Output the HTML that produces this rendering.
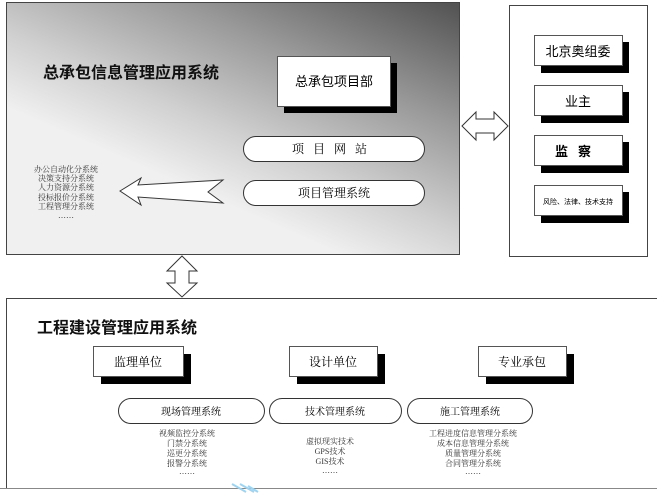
<!DOCTYPE html>
<html><head><meta charset="utf-8"><style>
html,body{margin:0;padding:0;background:#fff;width:657px;height:493px;overflow:hidden}
svg{display:block}
text{font-family:"Liberation Serif","Noto Serif CJK SC",serif}
.b{font-family:"Liberation Sans","Noto Sans CJK SC",sans-serif;font-weight:bold}
.s{font-family:"Liberation Sans","Noto Sans CJK SC",sans-serif}
</style></head><body>
<svg width="657" height="493" viewBox="0 0 657 493" xmlns="http://www.w3.org/2000/svg">
<defs>
<linearGradient id="g2" gradientUnits="userSpaceOnUse" x1="440" y1="0" x2="330" y2="250">
<stop offset="0" stop-color="#555"/>
<stop offset="0.4" stop-color="#9a9a9a"/>
<stop offset="0.75" stop-color="#d0d0d0"/>
<stop offset="1" stop-color="#f0f0f0"/>
</linearGradient>
</defs>
<rect x="6.5" y="2.5" width="453" height="252" fill="url(#g2)" stroke="#444" stroke-width="1"/>
<text x="43" y="78" font-size="16" class="b" fill="#111">总承包信息管理应用系统</text>
<rect x="284" y="63" width="113" height="50" fill="#000"/>
<rect x="277.5" y="56.5" width="113" height="50" fill="#fff" stroke="#555"/>
<text x="334" y="86" font-size="13" class="s" text-anchor="middle">总承包项目部</text>
<rect x="243.5" y="136.5" width="181" height="25" rx="12.5" fill="#fff" stroke="#333"/>
<text x="334" y="153" font-size="12" text-anchor="middle" letter-spacing="9">项目网站</text>
<rect x="243.5" y="180.5" width="181" height="25" rx="12.5" fill="#fff" stroke="#333"/>
<text x="334" y="197" font-size="12" text-anchor="middle">项目管理系统</text>
<polygon points="120,191 141,178 138,185 223,180 208,192 223,203 138,197 141,205" fill="#fff" stroke="#333"/>
<g font-size="8" text-anchor="middle" fill="#333">
<text x="66" y="172">办公自动化分系统</text>
<text x="66" y="181">决策支持分系统</text>
<text x="66" y="190">人力资源分系统</text>
<text x="66" y="200">投标报价分系统</text>
<text x="66" y="209">工程管理分系统</text>
<text x="66" y="218">……</text>
</g>
<polygon points="462,126 476,112 476,119 494,119 494,112 508,126 494,140 494,133 476,133 476,140" fill="#fff" stroke="#333"/>
<rect x="509.5" y="5.5" width="138" height="251" fill="#fff" stroke="#444"/>
<rect x="541" y="42" width="88" height="31" fill="#000"/>
<rect x="534.5" y="35.5" width="88" height="30" fill="#fff" stroke="#555"/>
<text x="578" y="56" font-size="13" class="s" text-anchor="middle">北京奥组委</text>
<rect x="541" y="92" width="88" height="31" fill="#000"/>
<rect x="534.5" y="85.5" width="88" height="30" fill="#fff" stroke="#555"/>
<text x="578" y="106" font-size="13" class="s" text-anchor="middle">业主</text>
<rect x="541" y="142" width="88" height="31" fill="#000"/>
<rect x="534.5" y="135.5" width="88" height="30" fill="#fff" stroke="#555"/>
<text x="578" y="156" font-size="13" class="b" text-anchor="middle" letter-spacing="10">监察</text>
<rect x="541" y="192" width="88" height="31" fill="#000"/>
<rect x="534.5" y="185.5" width="88" height="30" fill="#fff" stroke="#555"/>
<text x="578" y="204" font-size="7" class="s" text-anchor="middle">风险、法律、技术支持</text>
<polygon points="182,256 197,271 189,271 189,283 197,283 182,297 167,283 175,283 175,271 167,271" fill="#fff" stroke="#333"/>
<path d="M6.5,488 V298.5 H657" fill="none" stroke="#444"/>
<line x1="0" y1="488.5" x2="657" y2="488.5" stroke="#888"/>
<text x="37" y="333" font-size="16" class="b" fill="#111">工程建设管理应用系统</text>
<rect x="101" y="354" width="90" height="30" fill="#000"/>
<rect x="93.5" y="346.5" width="90" height="30" fill="#fff" stroke="#555"/>
<text x="138" y="366" font-size="12" text-anchor="middle">监理单位</text>
<rect x="297" y="354" width="88" height="30" fill="#000"/>
<rect x="289.5" y="346.5" width="88" height="30" fill="#fff" stroke="#555"/>
<text x="333" y="366" font-size="12" text-anchor="middle">设计单位</text>
<rect x="486" y="354" width="88" height="30" fill="#000"/>
<rect x="478.5" y="346.5" width="88" height="30" fill="#fff" stroke="#555"/>
<text x="522" y="366" font-size="12" text-anchor="middle">专业承包</text>
<rect x="118.5" y="398.5" width="146" height="25" rx="12.5" fill="#fff" stroke="#333"/>
<text x="191" y="415" font-size="10" text-anchor="middle">现场管理系统</text>
<rect x="269.5" y="398.5" width="132" height="25" rx="12.5" fill="#fff" stroke="#333"/>
<text x="335" y="415" font-size="10" text-anchor="middle">技术管理系统</text>
<rect x="407.5" y="398.5" width="125" height="25" rx="12.5" fill="#fff" stroke="#333"/>
<text x="470" y="415" font-size="10" text-anchor="middle">施工管理系统</text>
<g font-size="8" text-anchor="middle" fill="#333">
<text x="187" y="436">视频监控分系统</text>
<text x="187" y="446">门禁分系统</text>
<text x="187" y="456">巡更分系统</text>
<text x="187" y="466">报警分系统</text>
<text x="187" y="474">……</text>
<text x="330" y="444">虚拟现实技术</text>
<text x="330" y="454">GPS技术</text>
<text x="330" y="464">GIS技术</text>
<text x="330" y="473">……</text>
<text x="473" y="436">工程进度信息管理分系统</text>
<text x="473" y="446">成本信息管理分系统</text>
<text x="473" y="456">质量管理分系统</text>
<text x="473" y="466">合同管理分系统</text>
<text x="473" y="474">……</text>
</g>
<g stroke="#9fd3f0" stroke-width="2">
<line x1="232" y1="484" x2="246" y2="492"/>
<line x1="240" y1="484" x2="254" y2="492"/>
<line x1="248" y1="486" x2="258" y2="492"/>
</g>
</svg>
</body></html>
